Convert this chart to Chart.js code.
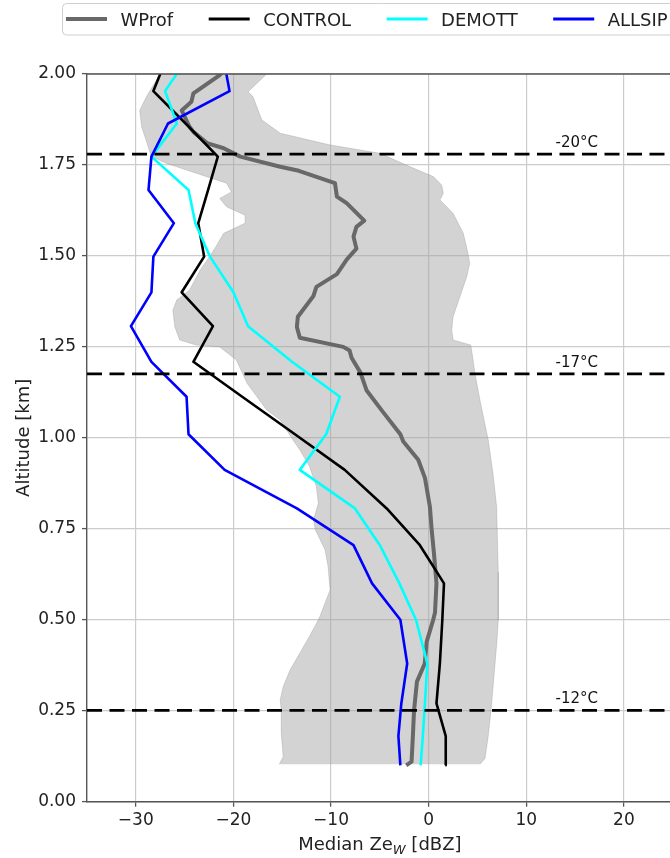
<!DOCTYPE html>
<html>
<head>
<meta charset="utf-8">
<script src="https://cdn.jsdelivr.net/npm/chart.js@4.4.1/dist/chart.umd.min.js"></script>
<style>
html,body{margin:0;padding:0;background:#fff;overflow:hidden;width:670px;height:858px;}
#wrap{position:relative;width:700px;height:858px;}
canvas{display:block;}
</style>
</head>
<body>
<div id="wrap"><canvas id="c" width="700" height="858"></canvas></div>
<script>
// ---------------- data ----------------
const seriesNames = ['WProf', 'CONTROL', 'DEMOTT', 'ALLSIP'];

// model levels (km) shared by the three simulations
const modelAlt  = [0.10, 0.18, 0.27, 0.38, 0.50, 0.60, 0.705, 0.806, 0.912, 1.01, 1.113, 1.209, 1.307, 1.40, 1.498, 1.59, 1.681, 1.773, 1.864, 1.953, 2.04];
const controlZe = [1.7, 1.75, 0.8, 1.15, 1.4, 1.57, -0.9, -4.3, -8.6, -13.7, -19.1, -24.1, -22.1, -25.3, -23.0, -23.6, -22.6, -21.6, -24.9, -28.2, -26.9];
const demottZe  = [-0.82, -0.6, -0.38, -0.14, -1.3, -3.0, -5.0, -7.55, -13.2, -10.5, -9.1, -14.0, -18.5, -20.0, -22.4, -23.9, -24.6, -28.4, -25.8, -27.0, -24.8];
const allsipZe  = [-2.9, -3.1, -2.8, -2.2, -2.9, -5.8, -7.7, -13.5, -20.9, -24.6, -24.8, -28.4, -30.5, -28.4, -28.2, -26.1, -28.7, -28.4, -26.7, -20.4, -21.0];

// WProf observed median profile
const wprofAlt = [0.10, 0.11, 0.19, 0.25, 0.33, 0.38, 0.44, 0.50, 0.52, 0.60, 0.68, 0.75, 0.81, 0.89, 0.94, 0.99, 1.01, 1.07, 1.13, 1.18, 1.22, 1.24, 1.25, 1.275, 1.305, 1.333, 1.39, 1.415, 1.45, 1.49, 1.52, 1.553, 1.58, 1.597, 1.645, 1.663, 1.70, 1.734, 1.745, 1.773, 1.796, 1.81, 1.841, 1.855, 1.90, 1.924, 1.947, 1.997, 2.01];
const wprofZe  = [-2.3, -1.75, -1.6, -1.5, -1.2, -0.4, -0.2, 0.47, 0.65, 0.8, 0.55, 0.3, 0.13, -0.38, -1.07, -2.6, -2.9, -4.65, -6.35, -7.0, -7.9, -8.1, -8.75, -13.2, -13.5, -13.4, -11.8, -11.5, -9.4, -8.4, -7.4, -7.7, -7.4, -6.6, -8.4, -9.4, -9.6, -13.3, -15.2, -19.3, -21.0, -22.7, -24.1, -24.5, -25.3, -24.3, -24.1, -21.4, -21.0];

// WProf spread (shaded band): lower and upper edges
const bandLowAlt = [0.103, 0.124, 0.188, 0.252, 0.28, 0.316, 0.362, 0.408, 0.455, 0.505, 0.582, 0.646, 0.692, 0.747, 0.774, 0.82, 0.866, 0.921, 0.967, 0.994, 1.049, 1.077, 1.15, 1.214, 1.25, 1.255, 1.269, 1.305, 1.351, 1.379, 1.406, 1.461, 1.50, 1.525, 1.562, 1.59, 1.612, 1.635, 1.658, 1.676, 1.70, 1.736, 1.754, 1.773, 1.855, 1.90, 1.938, 1.983, 2.0];
const bandLowZe  = [-15.3, -14.9, -15.1, -15.1, -15.2, -14.9, -14.2, -13.2, -12.2, -11.2, -10.1, -10.3, -10.6, -11.6, -11.8, -11.3, -11.5, -12.2, -13.2, -13.9, -15.2, -16.6, -18.6, -19.7, -21.4, -23.8, -25.5, -26.0, -26.2, -25.8, -24.5, -23.4, -22.4, -21.8, -21.0, -18.8, -18.8, -20.7, -21.4, -20.2, -20.7, -24.8, -26.8, -28.4, -29.4, -29.6, -28.9, -27.9, -27.5];
const bandHighAlt = [0.103, 0.119, 0.18, 0.27, 0.38, 0.444, 0.5, 0.63, 0.81, 0.90, 0.994, 1.104, 1.177, 1.241, 1.255, 1.269, 1.296, 1.333, 1.388, 1.443, 1.48, 1.51, 1.562, 1.617, 1.654, 1.672, 1.695, 1.718, 1.745, 1.782, 1.805, 1.837, 1.874, 1.938, 1.951, 2.0];
const bandHighZe  = [5.25, 5.77, 6.1, 6.45, 6.8, 7.0, 7.13, 7.13, 6.96, 6.6, 6.1, 5.25, 4.74, 4.4, 4.3, 2.5, 2.36, 2.5, 3.2, 3.9, 4.2, 4.0, 3.55, 2.5, 1.16, 1.5, 1.33, 0.47, -1.9, -5.0, -10.1, -15.2, -17.1, -18.0, -18.5, -16.6];

// isotherm heights
const isoAlt   = [1.78, 1.176, 0.251];
const isoLabel = ['-20°C', '-17°C', '-12°C'];
const isoLabelZe = 13;

// axes
const xTickValues = [-30, -20, -10, 0, 10, 20];
const yTickValues = [0, 0.25, 0.5, 0.75, 1.0, 1.25, 1.5, 1.75, 2.0];
const xRange = [-35, 25];
const yRange = [0, 2];

// ---------------- build ----------------
const pts = (xs, ys) => xs.map((v, i) => ({x: v, y: ys[i]}));
const bandPolygon = pts(bandLowZe, bandLowAlt).concat(pts(bandHighZe, bandHighAlt).reverse());

const FONT = '"DejaVu Sans", "Noto Sans", sans-serif';
Chart.defaults.font.family = FONT;

const seriesStyle = {
  WProf:   {color: '#686868', width: 4},
  CONTROL: {color: '#000000', width: 2.6},
  DEMOTT:  {color: '#00ffff', width: 2.6},
  ALLSIP:  {color: '#0000ff', width: 2.6}
};
const seriesData = {
  WProf: pts(wprofZe, wprofAlt),
  CONTROL: pts(controlZe, modelAlt),
  DEMOTT: pts(demottZe, modelAlt),
  ALLSIP: pts(allsipZe, modelAlt)
};

const datasets = [];
isoAlt.forEach((h, i) => {
  datasets.push({
    label: isoLabel[i], data: [{x: xRange[0], y: h}, {x: xRange[1] + 5, y: h}],
    borderColor: '#000', borderWidth: 2.8, borderDash: [15, 7.5], pointRadius: 0,
    fill: false, clip: 0, order: 0, inLegend: false
  });
});
seriesNames.forEach((n, i) => {
  datasets.push({
    label: n, data: seriesData[n], borderColor: seriesStyle[n].color, backgroundColor: seriesStyle[n].color,
    borderWidth: seriesStyle[n].width, pointRadius: 0, fill: false, clip: 0,
    borderJoinStyle: 'round', order: 5 - i, inLegend: true
  });
});
datasets.push({
  label: 'WProf spread', data: bandPolygon, borderColor: 'rgba(150,150,150,0.35)', borderWidth: 1,
  backgroundColor: 'rgba(162,162,162,0.48)', fill: 'shape', pointRadius: 0, clip: 0, order: 10, inLegend: false
});

const CA = {left: 87, right: 672.7, top: 74, bottom: 801.7};

const overlay = {
  id: 'overlay',
  afterDraw(chart) {
    const {ctx, chartArea: a, scales: {x, y}} = chart;
    ctx.save();
    // top/right spines
    ctx.strokeStyle = '#555'; ctx.lineWidth = 1.4;
    ctx.beginPath(); ctx.moveTo(a.left, a.top); ctx.lineTo(a.right, a.top); ctx.lineTo(a.right, a.bottom); ctx.stroke();

    // isotherm labels
    ctx.fillStyle = '#111'; ctx.font = '15px ' + FONT; ctx.textAlign = 'left'; ctx.textBaseline = 'alphabetic';
    isoAlt.forEach((h, i) => ctx.fillText(isoLabel[i], x.getPixelForValue(isoLabelZe), y.getPixelForValue(h) - 7));

    // x title with subscript
    ctx.fillStyle = '#222';
    const p1 = 'Median Ze', p2 = 'W', p3 = ' [dBZ]';
    ctx.font = '18px ' + FONT; const w1 = ctx.measureText(p1).width, w3 = ctx.measureText(p3).width;
    ctx.font = 'italic 13px ' + FONT; const w2 = ctx.measureText(p2).width;
    const cx = (a.left + a.right) / 2; let sx = cx - (w1 + w2 + w3) / 2; const by = 850;
    ctx.font = '18px ' + FONT; ctx.fillText(p1, sx, by); sx += w1;
    ctx.font = 'italic 13px ' + FONT; ctx.fillText(p2, sx, by + 4); sx += w2;
    ctx.font = '18px ' + FONT; ctx.fillText(p3, sx, by);

    // y title
    ctx.save();
    ctx.translate(29, (a.top + a.bottom) / 2); ctx.rotate(-Math.PI / 2);
    ctx.textAlign = 'center'; ctx.font = '18px ' + FONT;
    ctx.fillText('Altitude [km]', 0, 0);
    ctx.restore();

    // legend
    ctx.fillStyle = '#fff'; ctx.strokeStyle = '#cfcfcf'; ctx.lineWidth = 1;
    ctx.beginPath(); ctx.roundRect(62.5, 3.5, 640, 31.5, 4); ctx.fill(); ctx.stroke();
    ctx.font = '18px ' + FONT; ctx.textAlign = 'left';
    let lx = 66;
    chart.data.datasets.filter(d => d.inLegend).forEach(d => {
      ctx.strokeStyle = d.borderColor; ctx.lineWidth = d.borderWidth >= 4 ? 4 : 3;
      ctx.beginPath(); ctx.moveTo(lx, 19); ctx.lineTo(lx + 41, 19); ctx.stroke();
      ctx.fillStyle = '#222';
      ctx.fillText(d.label, lx + 54.5, 26);
      lx += 54.5 + ctx.measureText(d.label).width + 35.5;
    });
    ctx.restore();
  }
};

new Chart(document.getElementById('c'), {
  type: 'line',
  data: {datasets},
  options: {
    responsive: false, animation: false, events: [],
    layout: {padding: {left: 0, right: 700 - CA.right, top: CA.top, bottom: 0}},
    plugins: {legend: {display: false}, tooltip: {enabled: false}, title: {display: false}},
    scales: {
      x: {
        type: 'linear', min: xRange[0], max: xRange[1],
        afterBuildTicks: s => { s.ticks = xTickValues.map(v => ({value: v})); },
        afterFit: s => { s.height = 858 - CA.bottom; },
        ticks: {font: {size: 17}, color: '#222', padding: 4, maxRotation: 0,
          callback: v => v < 0 ? '\u2212' + Math.abs(v) : String(v)},
        grid: {color: '#cccccc', lineWidth: 1.2, tickLength: 5, tickColor: '#555', tickWidth: 1.3},
        border: {color: '#555', width: 1.4}
      },
      y: {
        type: 'linear', min: yRange[0], max: yRange[1],
        afterBuildTicks: s => { s.ticks = yTickValues.map(v => ({value: v})); },
        afterFit: s => { s.width = CA.left; },
        ticks: {font: {size: 17}, color: '#222', padding: 6, callback: v => Number(v).toFixed(2)},
        grid: {color: '#cccccc', lineWidth: 1.2, tickLength: 5, tickColor: '#555', tickWidth: 1.3},
        border: {color: '#555', width: 1.4}
      }
    }
  },
  plugins: [overlay]
});
</script>
</body>
</html>
